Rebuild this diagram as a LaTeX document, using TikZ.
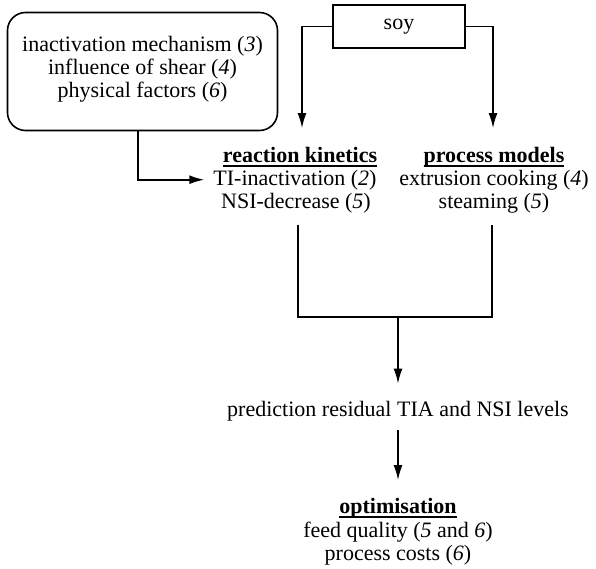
\documentclass[tikz,border=0pt]{standalone}
\usepackage{fontspec}
\newfontfamily\tnr{Liberation Serif}
\usetikzlibrary{arrows.meta}
\newcommand\hul[1]{\setbox0\hbox{#1}\rlap{\rule[-4.5pt]{\wd0}{1.1pt}}\box0}
\begin{document}
\begin{tikzpicture}[x=1pt,y=-1pt,
  fnt/.style={font=\tnr\fontsize{22}{23}\selectfont},
  txt/.style={fnt, inner sep=0pt, anchor=base},
  line/.style={line width=1.6pt},
  arr/.style={line width=1.6pt, -{Latex[length=15pt,width=9pt]}},
]
\useasboundingbox (0,0) rectangle (596,568);
% boxes
\node[draw, line width=1.6pt, rounded corners=18pt, minimum width=270pt, minimum height=118pt,
      inner sep=0pt, align=center, fnt] (inbox) at (142.5,71.5)
  {inactivation mechanism (\textit{3})\\ influence of shear (\textit{4})\\ physical factors (\textit{6})\rule[-9pt]{0pt}{0pt}};
\node[draw, line width=1.6pt, minimum width=132pt, minimum height=43pt, inner sep=0pt, fnt] (soy) at (399,26.5) {soy};
% texts
\node[txt] (rkh) at (300,162) {\hul{\textbf{reaction kinetics}}};
\node[txt] (ti) at (295,185) {TI-inactivation (\textit{2})};
\node[txt] (nsi) at (296,208) {NSI-decrease (\textit{5})};
\node[txt] (pmh) at (494,162) {\hul{\textbf{process models}}};
\node[txt] (ec) at (494,185) {extrusion cooking (\textit{4})};
\node[txt] (st) at (494,208) {steaming (\textit{5})};
\node[txt] (pred) at (398,416) {prediction residual TIA and NSI levels};
\node[txt] (opth) at (398,513) {\hul{\textbf{optimisation}}};
\node[txt] (fq) at (398,537) {feed quality (\textit{5} and \textit{6})};
\node[txt] (pc) at (398,560) {process costs (\textit{6})};
% connectors
\draw[arr] (soy.west) -| ([xshift=2pt,yshift=18.5pt]rkh.north);
\draw[arr] (soy.east) -| ([xshift=-1pt,yshift=18.5pt]pmh.north);
\draw[arr] ([xshift=-4.5pt]inbox.south) |- ([xshift=-9pt]ti.west);
\coordinate (rkout) at ([xshift=2pt,yshift=-12pt]nsi.south);
\coordinate (pmout) at ([xshift=-2pt,yshift=-12pt]st.south);
\coordinate (j) at (398,317);
\draw[line] (rkout) |- (j) -| (pmout);
\draw[arr] (j) -- ([yshift=17pt]pred.north);
\draw[arr] ([yshift=-9pt]pred.south) -- ([yshift=17.5pt]opth.north);
\end{tikzpicture}
\end{document}
